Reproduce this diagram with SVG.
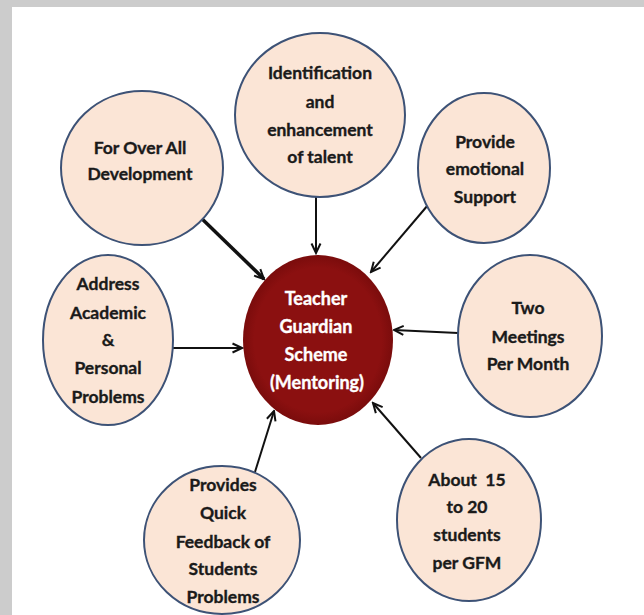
<svg xmlns="http://www.w3.org/2000/svg" width="644" height="615" viewBox="0 0 644 615">
<defs>
<style>
.bub{fill:#fbe5d6;stroke:#3d5276;stroke-width:2}
.t{font-family:Lato,"Open Sans","Liberation Sans",sans-serif;font-weight:bold;font-size:17.5px;fill:#1a1a1a;stroke:#1a1a1a;stroke-width:0.35;text-anchor:middle}
.w{fill:#ffffff;stroke:#ffffff;font-size:18px}
.c{stroke:#111;stroke-width:2;fill:none;marker-end:url(#ah)}
</style>
<marker id="ah" viewBox="0 0 12 12" refX="10.5" refY="6" markerWidth="12" markerHeight="12" markerUnits="userSpaceOnUse" orient="auto">
<path d="M1,1.5 L10.5,6 L1,10.5" fill="none" stroke="#111" stroke-width="2"/>
</marker>
<radialGradient id="rg" cx="50%" cy="50%" r="50%">
<stop offset="0.85" stop-color="#8b1010"/>
<stop offset="1" stop-color="#7a0c0c"/>
</radialGradient>
</defs>
<rect x="0" y="0" width="644" height="615" fill="#cccccc"/>
<rect x="12" y="7" width="632" height="608" fill="#ffffff"/>

<g id="connectors">
<line class="c" x1="197" y1="214" x2="264" y2="279" style="stroke-width:3.5"/>
<line class="c" x1="316" y1="197" x2="316" y2="253"/>
<line class="c" x1="428" y1="205" x2="371" y2="272"/>
<line class="c" x1="173" y1="348" x2="242" y2="348"/>
<line class="c" x1="458" y1="333" x2="394" y2="330"/>
<line class="c" x1="255" y1="472" x2="274" y2="411"/>
<line class="c" x1="421" y1="458" x2="373" y2="403"/>
</g>

<g id="center">
<ellipse cx="318" cy="340" rx="75" ry="85" fill="url(#rg)"/>
<text class="t w" x="316" y="305">Teacher</text>
<text class="t w" x="316" y="333">Guardian</text>
<text class="t w" x="316" y="361">Scheme</text>
<text class="t w" x="317" y="389">(Mentoring)</text>
</g>

<g id="n-identification">
<ellipse class="bub" cx="320" cy="115" rx="85" ry="82"/>
<text class="t" x="320" y="79">Identification</text>
<text class="t" x="320" y="108">and</text>
<text class="t" x="320" y="136">enhancement</text>
<text class="t" x="320" y="163">of talent</text>
</g>

<g id="n-overall">
<ellipse class="bub" cx="142" cy="168" rx="81" ry="77"/>
<text class="t" x="140" y="154">For Over All</text>
<text class="t" x="140" y="180">Development</text>
</g>

<g id="n-emotional">
<ellipse class="bub" cx="484" cy="168" rx="66" ry="75"/>
<text class="t" x="485" y="148">Provide</text>
<text class="t" x="485" y="175">emotional</text>
<text class="t" x="485" y="203">Support</text>
</g>

<g id="n-address">
<ellipse class="bub" cx="108" cy="340" rx="65" ry="85"/>
<text class="t" x="108" y="290">Address</text>
<text class="t" x="108" y="319">Academic</text>
<text class="t" x="108" y="346">&amp;</text>
<text class="t" x="108" y="374">Personal</text>
<text class="t" x="108" y="403">Problems</text>
</g>

<g id="n-meetings">
<ellipse class="bub" cx="530" cy="336" rx="72" ry="81"/>
<text class="t" x="528" y="314">Two</text>
<text class="t" x="528" y="343">Meetings</text>
<text class="t" x="528" y="370">Per Month</text>
</g>

<g id="n-feedback">
<ellipse class="bub" cx="222" cy="540" rx="78" ry="74"/>
<text class="t" x="223" y="491">Provides</text>
<text class="t" x="223" y="519">Quick</text>
<text class="t" x="223" y="548">Feedback of</text>
<text class="t" x="223" y="575">Students</text>
<text class="t" x="223" y="603">Problems</text>
</g>

<g id="n-students">
<ellipse class="bub" cx="469" cy="520" rx="72" ry="81"/>
<text class="t" x="467" y="486" xml:space="preserve">About  15</text>
<text class="t" x="467" y="513">to 20</text>
<text class="t" x="467" y="541">students</text>
<text class="t" x="467" y="569">per GFM</text>
</g>
</svg>
